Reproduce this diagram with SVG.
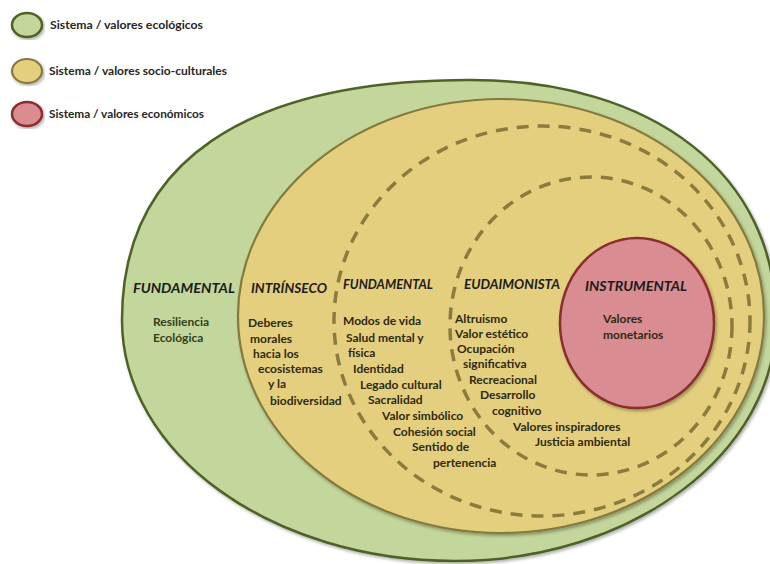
<svg xmlns="http://www.w3.org/2000/svg" width="770" height="564" viewBox="0 0 770 564">
<defs>
<filter id="sh" x="-10%" y="-10%" width="120%" height="120%">
<feDropShadow dx="1.5" dy="2" stdDeviation="1.8" flood-color="#000000" flood-opacity="0.3"/>
</filter>
</defs>
<style>
.eco{fill:#c3d69b;stroke:#4f6228;stroke-width:2.5}
.soc{fill:#e4cf7e;stroke:#857a3c;stroke-width:2.2}
.dash{fill:none;stroke:#8a7b3e;stroke-width:3.5;stroke-dasharray:12 9}
.econ{fill:#d98c92;stroke:#8a2d2d;stroke-width:2.5}
.lg{font-family:Lato,"Open Sans",sans-serif;font-weight:bold;font-size:11px;fill:#262626}
.hd{font-family:Lato,"Open Sans",sans-serif;font-weight:bold;font-style:italic;font-size:13.5px;fill:#1c1c1c}
.tx{font-family:Lato,"Open Sans",sans-serif;font-weight:bold;font-size:12px;fill:#2e2a12}
.gt{fill:#33401c}
</style>
<rect width="770" height="564" fill="#ffffff"/>
<g id="legend-eco">
<ellipse class="eco" cx="27" cy="25" rx="15" ry="12" filter="url(#sh)"/>
<text class="lg" x="50" y="29" textLength="153" lengthAdjust="spacingAndGlyphs">Sistema / valores ecológicos</text>
</g>
<g id="legend-socio">
<ellipse class="soc" cx="27" cy="71" rx="15" ry="12" filter="url(#sh)"/>
<text class="lg" x="49" y="75" textLength="178" lengthAdjust="spacingAndGlyphs">Sistema / valores socio-culturales</text>
</g>
<g id="legend-econ">
<ellipse class="econ" cx="27" cy="114" rx="15" ry="12" filter="url(#sh)"/>
<text class="lg" x="49" y="118" textLength="155" lengthAdjust="spacingAndGlyphs">Sistema / valores económicos</text>
</g>
<g id="ecologico">
<path class="eco" filter="url(#sh)" d="M122,320 C122,163 244,80 470,80 C654,80 776,175 776,320 C776,453 632,561 455,561 C271,561 122,453 122,320 Z"/>
<text class="hd" x="133" y="293" textLength="102" lengthAdjust="spacingAndGlyphs">FUNDAMENTAL</text>
<text class="tx gt" x="153" y="326">Resiliencia</text>
<text class="tx gt" x="153" y="342">Ecológica</text>
</g>
<g id="socio-cultural">
<ellipse class="soc" cx="501" cy="316" rx="263" ry="217" filter="url(#sh)"/>
<text class="hd" x="251" y="293" textLength="76" lengthAdjust="spacingAndGlyphs">INTRÍNSECO</text>
<text class="tx" x="248" y="327">Deberes</text>
<text class="tx" x="250" y="343">morales</text>
<text class="tx" x="253" y="358">hacia los</text>
<text class="tx" x="258" y="373">ecosistemas</text>
<text class="tx" x="268" y="388">y la</text>
<text class="tx" x="270" y="405">biodiversidad</text>
</g>
<g id="fundamental">
<ellipse class="dash" cx="542" cy="321" rx="208" ry="195"/>
<text class="hd" x="343" y="289" textLength="90" lengthAdjust="spacingAndGlyphs">FUNDAMENTAL</text>
<text class="tx" x="343" y="325">Modos de vida</text>
<text class="tx" x="346" y="342">Salud mental y</text>
<text class="tx" x="348" y="357">física</text>
<text class="tx" x="353" y="373">Identidad</text>
<text class="tx" x="360" y="389">Legado cultural</text>
<text class="tx" x="368" y="404">Sacralidad</text>
<text class="tx" x="382" y="420">Valor simbólico</text>
<text class="tx" x="393" y="436">Cohesión social</text>
<text class="tx" x="412" y="451">Sentido de</text>
<text class="tx" x="433" y="467">pertenencia</text>
</g>
<g id="eudaimonista">
<ellipse class="dash" cx="591" cy="326" rx="141" ry="149"/>
<text class="hd" x="464" y="289" textLength="96" lengthAdjust="spacingAndGlyphs">EUDAIMONISTA</text>
<text class="tx" x="455" y="323">Altruismo</text>
<text class="tx" x="455" y="338">Valor estético</text>
<text class="tx" x="457" y="353">Ocupación</text>
<text class="tx" x="463" y="368">significativa</text>
<text class="tx" x="469" y="384">Recreacional</text>
<text class="tx" x="480" y="399">Desarrollo</text>
<text class="tx" x="492" y="415">cognitivo</text>
<text class="tx" x="513" y="431">Valores inspiradores</text>
<text class="tx" x="535" y="446">Justicia ambiental</text>
</g>
<g id="instrumental">
<ellipse class="econ" cx="637" cy="323" rx="77" ry="85" filter="url(#sh)"/>
<text class="hd" x="585" y="291" textLength="102" lengthAdjust="spacingAndGlyphs">INSTRUMENTAL</text>
<text class="tx" x="603" y="323">Valores</text>
<text class="tx" x="603" y="339">monetarios</text>
</g>
<g id="connectors"/>
</svg>
